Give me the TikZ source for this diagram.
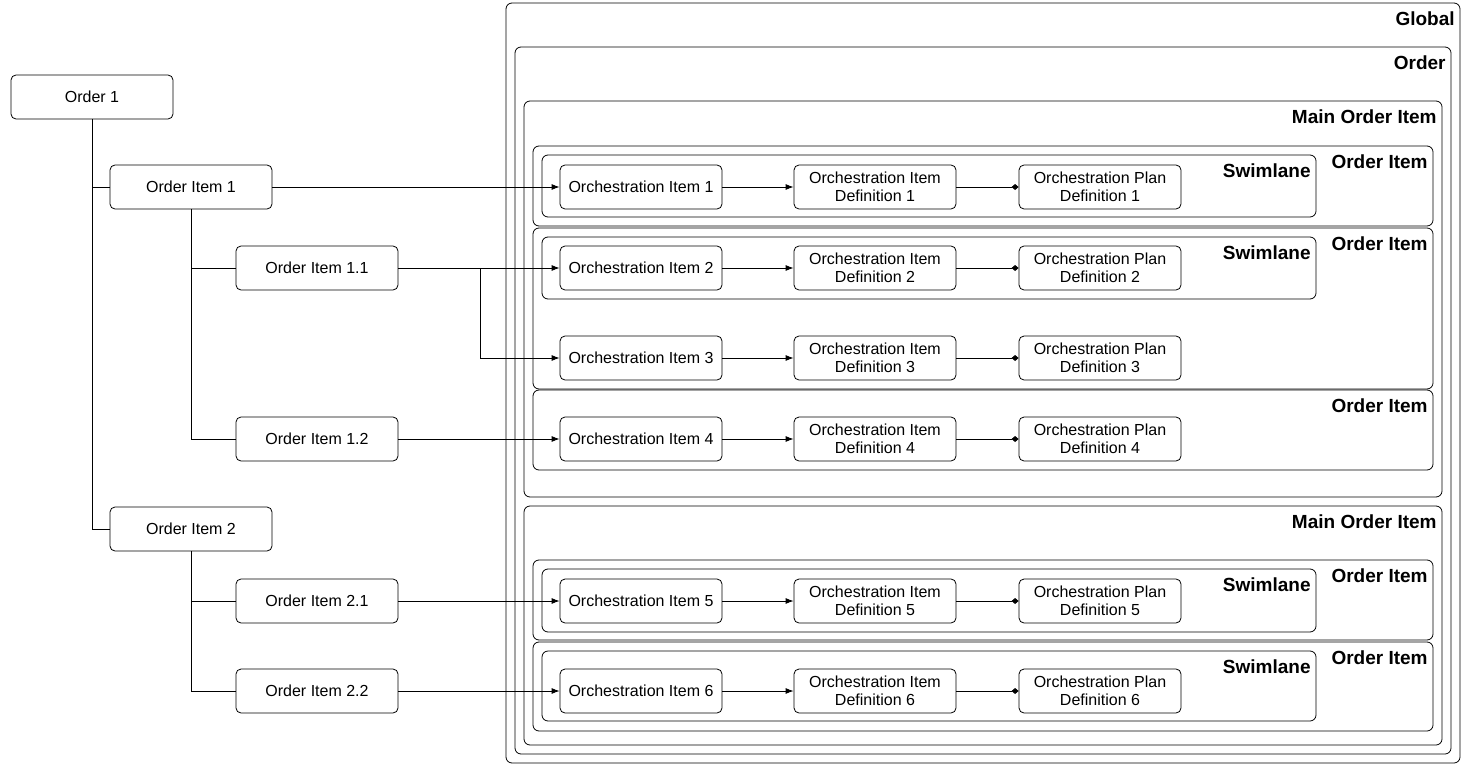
\documentclass[tikz,border=0pt]{standalone}
\usepackage{fontspec}
\setmainfont{Liberation Sans}
\usetikzlibrary{arrows.meta}

\tikzset{
    box/.style={draw, rounded corners=5pt, minimum width=162pt, minimum height=44pt,
        align=center, inner sep=1pt, font=\fontsize{16}{18}\selectfont},
    frame/.style={draw, rounded corners=6pt},
    tag/.style={anchor=north east, inner sep=0pt, font=\fontsize{19}{21}\selectfont\bfseries},
    link/.style={-{Latex[length=8pt,width=6pt]}},
    plan/.style={-{Diamond[length=7pt,width=6pt]}},
}

\begin{document}
\begin{tikzpicture}[x=1pt, y=-1pt, line width=0.8pt]

    \useasboundingbox (0,0) rectangle (1462,765);

    % Containers
    \draw[frame] (506,3)   rectangle (1460,763); \node[tag] at (1455,11)  {Global};
    \draw[frame] (515,47)  rectangle (1451,754); \node[tag] at (1446,55)  {Order};
    \draw[frame] (524,101) rectangle (1442,497); \node[tag] at (1437,109) {Main Order Item};
    \draw[frame] (524,506) rectangle (1442,745); \node[tag] at (1437,514) {Main Order Item};
    \foreach \ya/\yb in {146/226, 228/389, 390/470, 560/640, 642/731}{
        \draw[frame] (533,\ya) rectangle (1433,\yb);
        \node[tag] at (1428,\ya+8) {Order Item};
    }
    \foreach \ya/\yb in {155/217, 237/299, 569/632, 651/721}{
        \draw[frame] (542,\ya) rectangle (1316,\yb);
        \node[tag] at (1311,\ya+8) {Swimlane};
    }

    % Order tree
    \node[box] (o1)  at (92,97)   {Order 1};
    \node[box] (i1)  at (191,187) {Order Item 1};
    \node[box] (i11) at (317,268) {Order Item 1.1};
    \node[box] (i12) at (317,439) {Order Item 1.2};
    \node[box] (i2)  at (191,529) {Order Item 2};
    \node[box] (i21) at (317,601) {Order Item 2.1};
    \node[box] (i22) at (317,691) {Order Item 2.2};

    \draw (o1.south) |- (i2.west);
    \draw (o1.south |- i1.west) -- (i1.west);
    \draw (i1.south) |- (i12.west);
    \draw (i1.south |- i11.west) -- (i11.west);
    \draw (i2.south) |- (i22.west);
    \draw (i2.south |- i21.west) -- (i21.west);

    % Orchestration chains
    \foreach \n/\y in {1/187, 2/268, 3/358, 4/439, 5/601, 6/691}{
        \node[box] (oi\n) at (641,\y)  {Orchestration Item \n};
        \node[box] (od\n) at (875,\y)  {Orchestration Item\\Definition \n};
        \node[box] (op\n) at (1100,\y) {Orchestration Plan\\Definition \n};
        \draw[link] (oi\n) -- (od\n);
        \draw[plan] (od\n) -- (op\n);
    }

    \coordinate (split) at (480,268);
    \draw[link] (i1)  -- (oi1);
    \draw[link] (i11) -- (oi2);
    \draw[link] (split) |- (oi3);
    \draw[link] (i12) -- (oi4);
    \draw[link] (i21) -- (oi5);
    \draw[link] (i22) -- (oi6);

\end{tikzpicture}
\end{document}
